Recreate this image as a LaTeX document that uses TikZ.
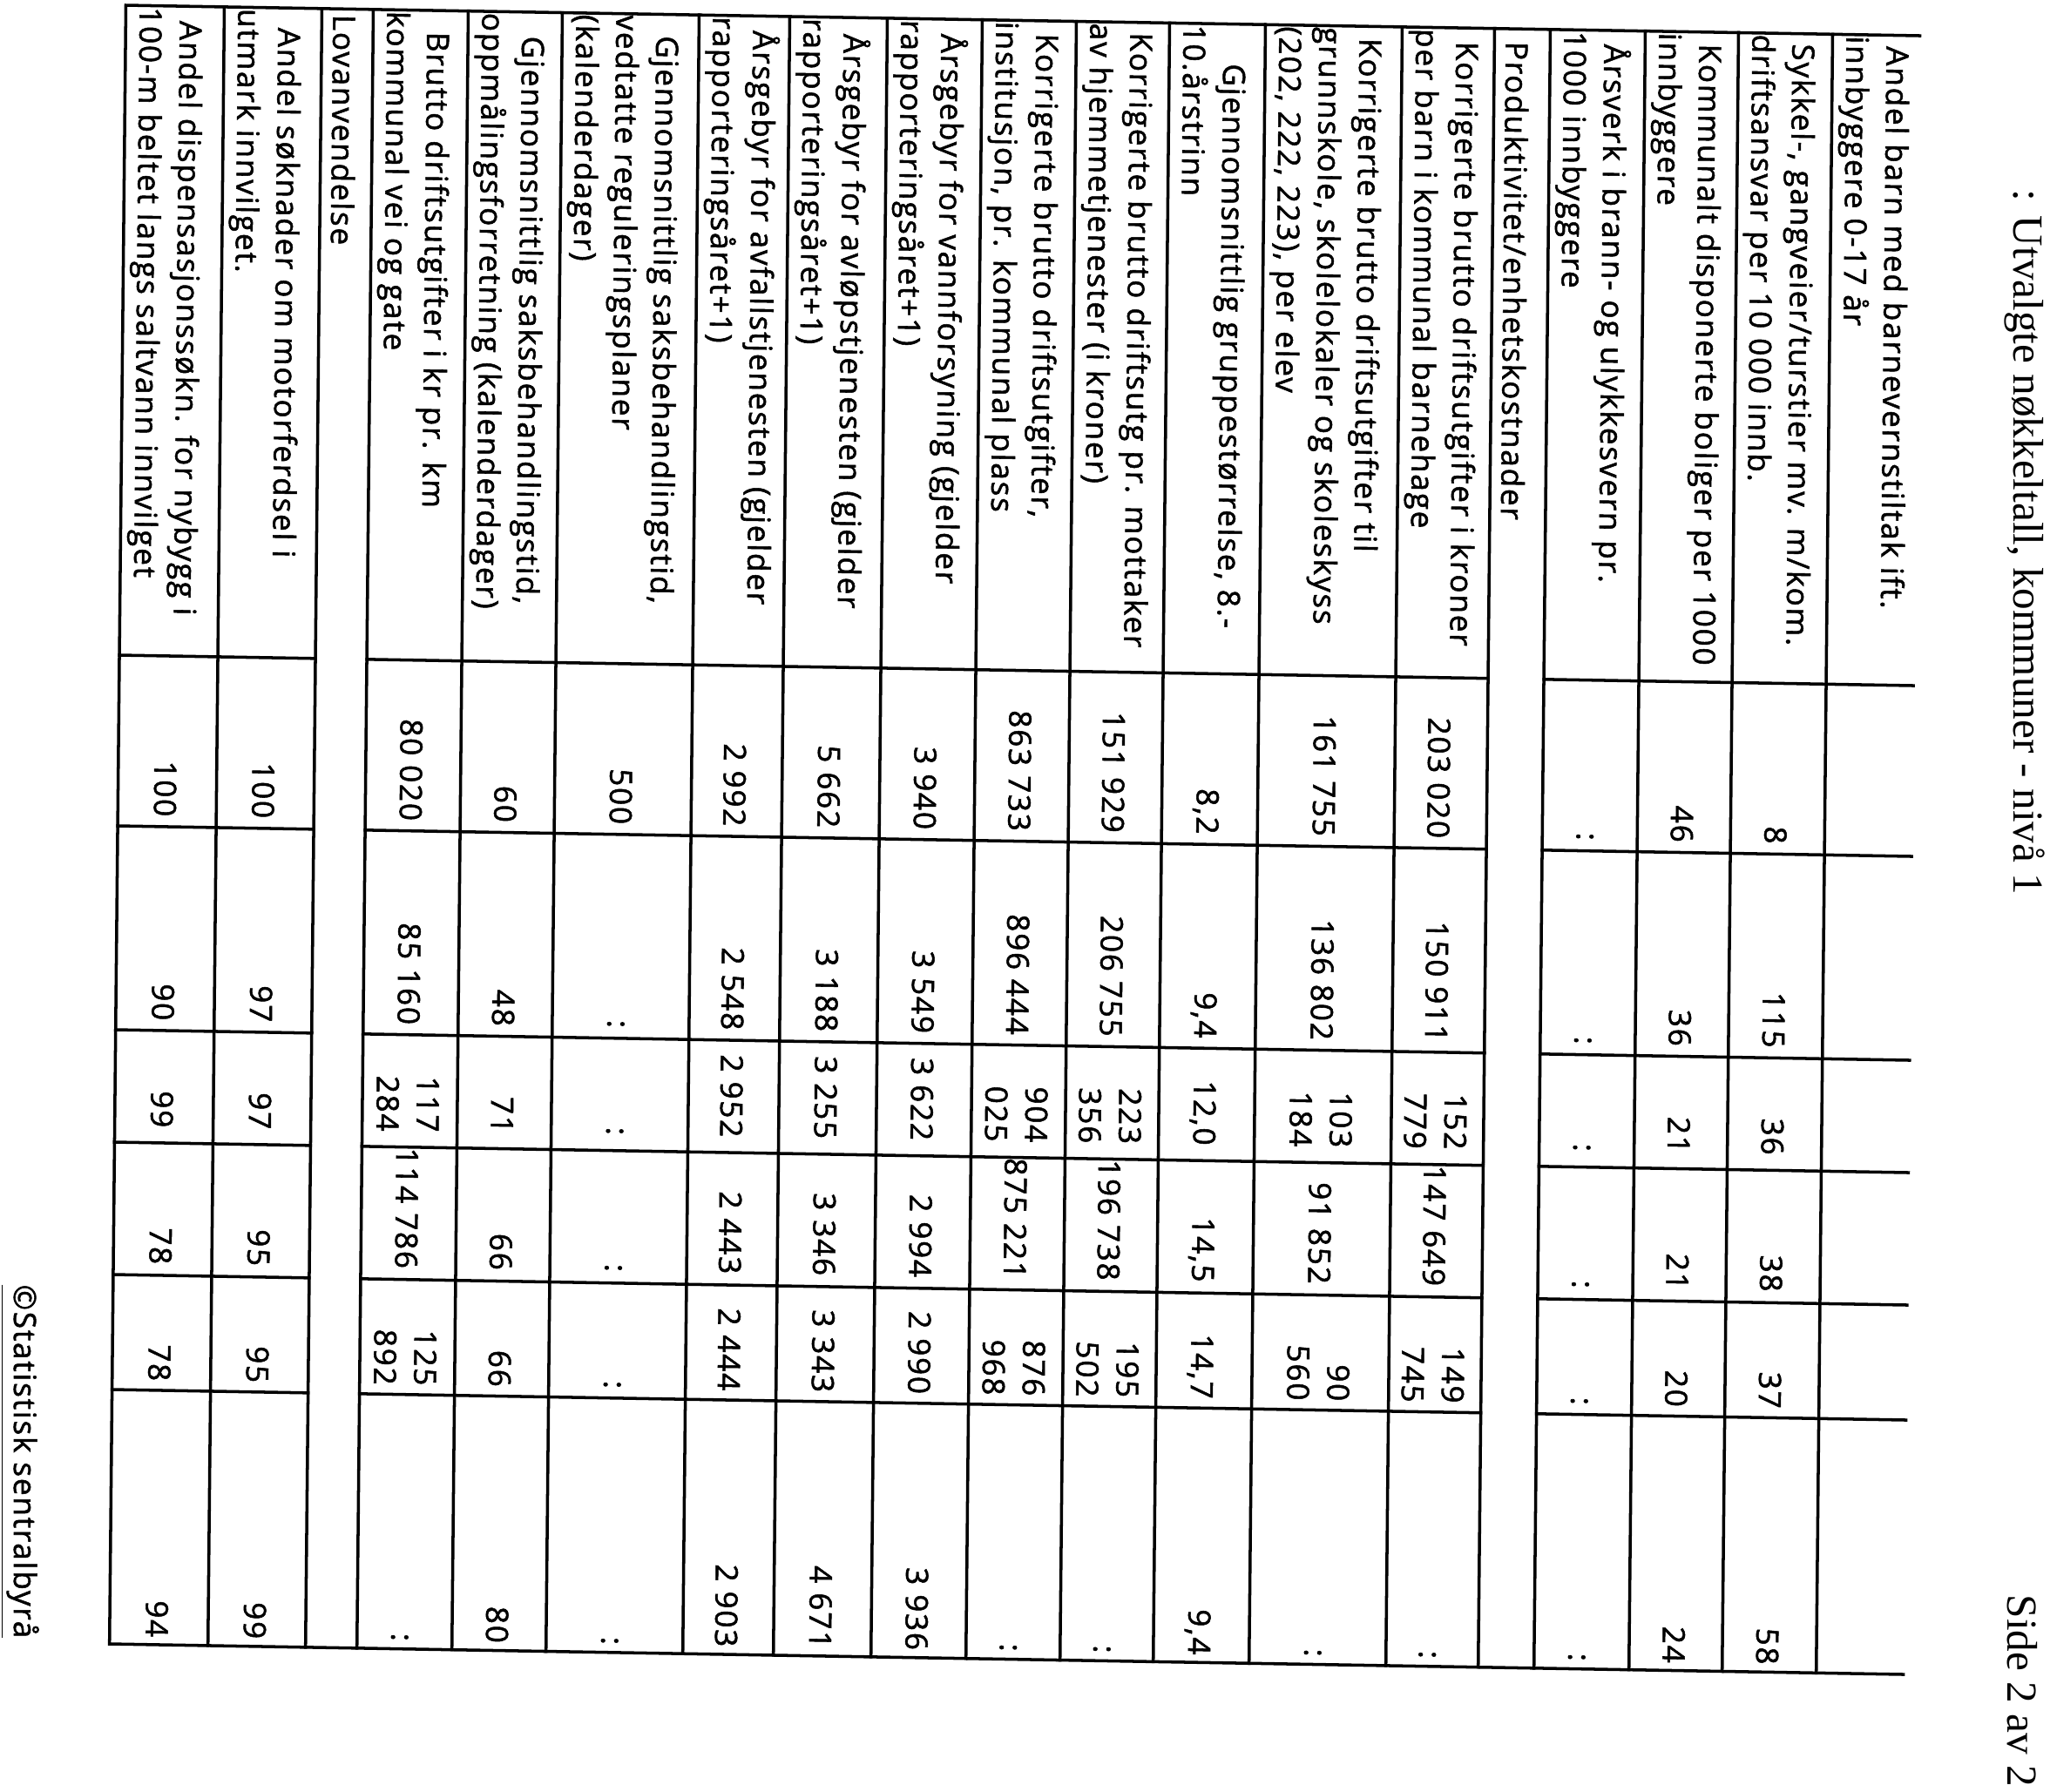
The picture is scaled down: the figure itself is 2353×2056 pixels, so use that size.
\documentclass[tikz,border=0pt]{standalone}
\usepackage{fontspec}
\setmainfont{Liberation Serif}
\newfontfamily\tabfont[LetterSpace=5,FakeBold=1.5]{Open Sans}

\tikzset{
  lbl/.style={anchor=base west,inner sep=0pt,font=\tabfont\fontsize{10}{13}\selectfont},
  val/.style={anchor=base east,inner sep=0pt,font=\tabfont\fontsize{10}{13}\selectfont},
  head/.style={rotate=-90,anchor=base west,inner sep=0pt,font=\fontsize{14}{16}\selectfont},
  rule/.style={line width=1pt,line cap=rect},
}
% six value cells of one row, at one baseline
\newcommand\valrow[8]{%
  \node[val] (#1a) at (931,#2) {#3};
  \node[val] (#1b) at (1165,#2) {#4};
  \node[val] (#1c) at (1288,#2) {#5};
  \node[val] (#1d) at (1445,#2) {#6};
  \node[val] (#1e) at (1579,#2) {#7};
  \node[val] (#1f) at (1873,#2) {#8};}

\begin{document}
\begin{tikzpicture}[x=0.01cm,y=0.01cm]
\fill[white] (0,0) rectangle (2353,-2056);
\useasboundingbox (0,0) rectangle (2353,-2056);

% page head and foot
\node[head] (title) at (2311,-217) {: Utvalgte nøkkeltall, kommuner - nivå 1};
\node[head] (page) at (2304,-1830) {Side 2 av 2};
\node[rotate=-90,lbl] (ssb) at (16,-1474) {\underline{©Statistisk sentralbyrå}};

% the table, turned a quarter round
\begin{scope}[cm={-0.010,-1,1,-0.017,(144.5,-6)},transform shape]
\draw[rule] (0,2059) -- (0,0) -- (1881,0) -- (1881,2059);
\foreach \u in {113,225,284,393,501,658,762,874,983,1091,1198,1308,1465,1571,1635,1744,1851,1959}
  \draw[rule] (0,\u) -- (1881,\u);
\foreach \v in {746,942,1176,1305,1457,1589}
  \draw[rule] (\v,0) -- (\v,225) (\v,284) -- (\v,1571) (\v,1635) -- (\v,2059);

% labels
\node[lbl] (l19a) at (12,2021) {Andel barn med barnevernstiltak ift.};
\node[lbl] (l19b) at (1,1975) {innbyggere 0-17 år};
\node[lbl] (l18a) at (11,1913) {Sykkel-, gangveier/turstier mv. m/kom.};
\node[lbl] (l18b) at (1,1867) {driftsansvar per 10 000 innb.};
\node[lbl] (l17a) at (13,1806) {Kommunalt disponerte boliger per 1000};
\node[lbl] (l17b) at (1,1760) {innbyggere};
\node[lbl] (l16a) at (15,1697) {Årsverk i brann- og ulykkesvern pr.};
\node[lbl] (l16b) at (1,1651) {1000 innbyggere};
\node[lbl] (l15) at (14,1584) {Produktivitet/enhetskostnader};
\node[lbl] (l14a) at (15,1527) {Korrigerte brutto driftsutgifter i kroner};
\node[lbl] (l14b) at (1,1481) {per barn i kommunal barnehage};
\node[lbl] (l13a) at (13,1416) {Korrigerte brutto driftsutgifter til};
\node[lbl] (l13b) at (1,1370) {grunnskole, skolelokaler og skoleskyss};
\node[lbl] (l13c) at (1,1324) {(202, 222, 223), per elev};
\node[lbl] (l12a) at (45,1260) {Gjennomsnittlig gruppestørrelse, 8.-};
\node[lbl] (l12b) at (1,1214) {10.årstrinn};
\node[lbl] (l11a) at (11,1153) {Korrigerte brutto driftsutg pr. mottaker};
\node[lbl] (l11b) at (1,1107) {av hjemmetjenester (i kroner)};
\node[lbl] (l10a) at (14,1045) {Korrigerte brutto driftsutgifter,};
\node[lbl] (l10b) at (1,999) {institusjon, pr. kommunal plass};
\node[lbl] (l9a) at (16,936) {Årsgebyr for vannforsyning (gjelder};
\node[lbl] (l9b) at (1,890) {rapporteringsåret+1)};
\node[lbl] (l8a) at (18,824) {Årsgebyr for avløpstjenesten (gjelder};
\node[lbl] (l8b) at (1,778) {rapporteringsåret+1)};
\node[lbl] (l7a) at (16,720) {Årsgebyr for avfallstjenesten (gjelder};
\node[lbl] (l7b) at (1,674) {rapporteringsåret+1)};
\node[lbl] (l6a) at (24,609) {Gjennomsnittlig saksbehandlingstid,};
\node[lbl] (l6b) at (1,563) {vedtatte reguleringsplaner};
\node[lbl] (l6c) at (1,517) {(kalenderdager)};
\node[lbl] (l5a) at (27,455) {Gjennomsnittlig saksbehandlingstid,};
\node[lbl] (l5b) at (1,409) {oppmålingsforretning (kalenderdager)};
\node[lbl] (l4a) at (24,346) {Brutto driftsutgifter i kr pr. km};
\node[lbl] (l4b) at (1,300) {kommunal vei og gate};
\node[lbl] (l3) at (6,238) {Lovanvendelse};
\node[lbl] (l2a) at (22,175) {Andel søknader om motorferdsel i};
\node[lbl] (l2b) at (1,129) {utmark innvilget.};
\node[lbl] (l1a) at (16,62) {Andel dispensasjonssøkn. for nybygg i};
\node[lbl] (l1b) at (1,16) {100-m beltet langs saltvann innvilget};

% values
\valrow{v18}{1890}{8}{115}{36}{38}{37}{58}
\valrow{v17}{1782.5}{46}{36}{21}{21}{20}{24}
\valrow{v16}{1674.5}{:}{:}{:}{:}{:}{:}
\valrow{v14}{1503}{203 020}{150 911}{}{147 649}{}{:}
\node[val] (v14c1) at (1288,1526) {152};
\node[val] (v14c2) at (1288,1480) {779};
\node[val] (v14e1) at (1579,1526) {149};
\node[val] (v14e2) at (1579,1480) {745};
\valrow{v13}{1371.5}{161 755}{136 802}{}{91 852}{}{:}
\node[val] (v13c1) at (1288,1394.5) {103};
\node[val] (v13c2) at (1288,1348.5) {184};
\node[val] (v13e1) at (1579,1394.5) {90};
\node[val] (v13e2) at (1579,1348.5) {560};
\valrow{v12}{1238}{8,2}{9,4}{12,0}{14,5}{14,7}{9,4}
\valrow{v11}{1129.5}{151 929}{206 755}{}{196 738}{}{:}
\node[val] (v11c1) at (1288,1152.5) {223};
\node[val] (v11c2) at (1288,1106.5) {356};
\node[val] (v11e1) at (1579,1152.5) {195};
\node[val] (v11e2) at (1579,1106.5) {502};
\valrow{v10}{1022}{863 733}{896 444}{}{875 221}{}{:}
\node[val] (v10c1) at (1288,1045) {904};
\node[val] (v10c2) at (1288,999) {025};
\node[val] (v10e1) at (1579,1045) {876};
\node[val] (v10e2) at (1579,999) {968};
\valrow{v9}{913.5}{3 940}{3 549}{3 622}{2 994}{2 990}{3 936}
\valrow{v8}{803}{5 662}{3 188}{3 255}{3 346}{3 343}{4 671}
\valrow{v7}{695}{2 992}{2 548}{2 952}{2 443}{2 444}{2 903}
\valrow{v6}{564.5}{500}{:}{:}{:}{:}{:}
\valrow{v5}{432}{60}{48}{71}{66}{66}{80}
\valrow{v4}{323.5}{80 020}{85 160}{}{114 786}{}{:}
\node[val] (v4c1) at (1288,346.5) {117};
\node[val] (v4c2) at (1288,300.5) {284};
\node[val] (v4e1) at (1579,346.5) {125};
\node[val] (v4e2) at (1579,300.5) {892};
\valrow{v2}{154}{100}{97}{97}{95}{95}{99}
\valrow{v1}{41.5}{100}{90}{99}{78}{78}{94}
\end{scope}
\end{tikzpicture}
\end{document}
